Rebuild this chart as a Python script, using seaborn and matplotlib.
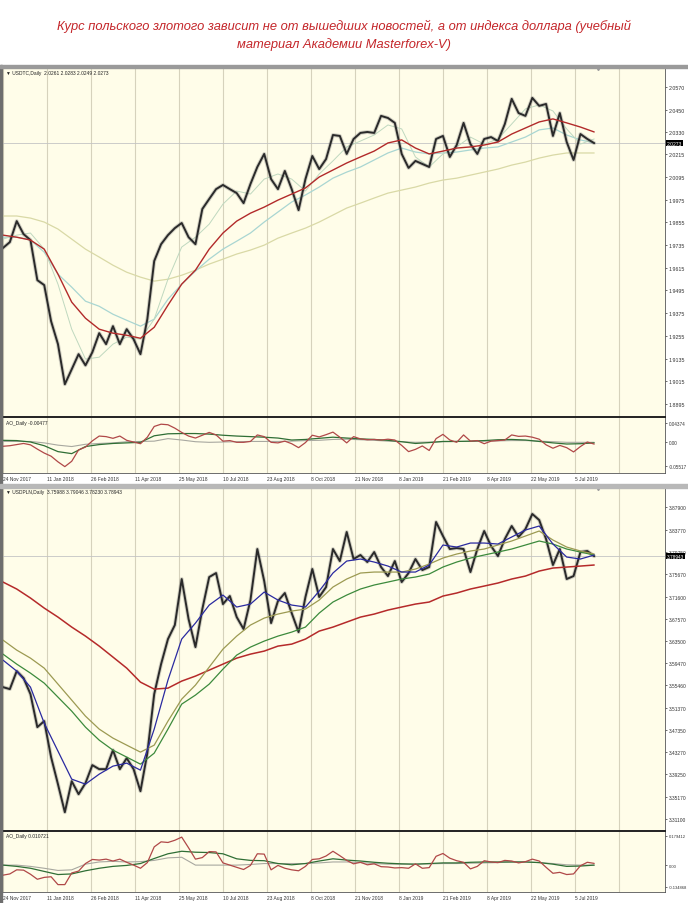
import numpy as np
import matplotlib
matplotlib.use("Agg")
import matplotlib.pyplot as plt
from matplotlib.patches import Rectangle
import seaborn as sns

sns.set_style("white")
plt.rcParams["font.family"] = ["Liberation Sans", "DejaVu Sans"]

# ---------------- data ----------------
title_lines = [
    "Курс польского злотого зависит не от вышедших новостей, а от индекса доллара (учебный",
    "материал Академии Masterforex-V)",
]
date_labels = ["24 Nov 2017", "11 Jan 2018", "26 Feb 2018", "11 Apr 2018", "25 May 2018",
               "10 Jul 2018", "23 Aug 2018", "8 Oct 2018", "21 Nov 2018", "8 Jan 2019",
               "21 Feb 2019", "8 Apr 2019", "22 May 2019", "5 Jul 2019"]

# bar index of weekly closes and of moving-average samples
bars_week = np.arange(0, 431, 5)
bars_ma = np.arange(0, 431, 10)

# ---- top chart ----
top_header = "USDTC,Daily  2.0261 2.0283 2.0249 2.0273"
top_close = [1.9719, 1.9750, 1.9861, 1.9792, 1.9761, 1.9549, 1.9523, 1.9332, 1.9211, 1.8999,
             1.9078, 1.9158, 1.9099, 1.9168, 1.9269, 1.9211, 1.9306, 1.9211, 1.9290, 1.9237,
             1.9158, 1.9343, 1.9650, 1.9739, 1.9787, 1.9824, 1.9851, 1.9776, 1.9739, 1.9925,
             1.9978, 2.0030, 2.0052, 2.0030, 2.0009, 1.9956, 2.0057, 2.0147, 2.0216, 2.0083,
             2.0030, 2.0126, 2.0030, 1.9919, 2.0083, 2.0205, 2.0136, 2.0189, 2.0316, 2.0311,
             2.0216, 2.0295, 2.0327, 2.0332, 2.0327, 2.0417, 2.0406, 2.0380, 2.0216, 2.0142,
             2.0179, 2.0163, 2.0147, 2.0295, 2.0311, 2.0200, 2.0263, 2.0380, 2.0268, 2.0216,
             2.0295, 2.0305, 2.0284, 2.0374, 2.0507, 2.0432, 2.0417, 2.0512, 2.0470, 2.0480,
             2.0311, 2.0432, 2.0279, 2.0184, 2.0321, 2.0295, 2.0273]
top_ma_red = [1.9787, 1.9776, 1.9761, 1.9713, 1.9581, 1.9433, 1.9348, 1.9290, 1.9269, 1.9258,
              1.9242, 1.9300, 1.9417, 1.9528, 1.9602, 1.9713, 1.9798, 1.9861, 1.9903, 1.9935,
              1.9972, 2.0004, 2.0036, 2.0094, 2.0131, 2.0168, 2.0200, 2.0231, 2.0274, 2.0290,
              2.0247, 2.0216, 2.0231, 2.0247, 2.0253, 2.0263, 2.0279, 2.0321, 2.0353, 2.0385,
              2.0401, 2.0380, 2.0358, 2.0332]
top_ma_cyan = [1.9776, 1.9776, 1.9761, 1.9697, 1.9581, 1.9512, 1.9438, 1.9411, 1.9369, 1.9337,
               1.9306, 1.9343, 1.9448, 1.9528, 1.9597, 1.9660, 1.9713, 1.9755, 1.9798, 1.9856,
               1.9909, 1.9962, 1.9999, 2.0041, 2.0088, 2.0120, 2.0147, 2.0184, 2.0221, 2.0247,
               2.0226, 2.0216, 2.0221, 2.0226, 2.0237, 2.0247, 2.0253, 2.0279, 2.0305, 2.0343,
               2.0353, 2.0316, 2.0290, 2.0274]
top_ma_beige = [1.9888, 1.9888, 1.9877, 1.9856, 1.9819, 1.9766, 1.9713, 1.9671, 1.9628, 1.9591,
                1.9565, 1.9544, 1.9554, 1.9575, 1.9602, 1.9634, 1.9660, 1.9687, 1.9708, 1.9734,
                1.9771, 1.9798, 1.9824, 1.9856, 1.9893, 1.9930, 1.9956, 1.9983, 2.0009, 2.0025,
                2.0041, 2.0062, 2.0078, 2.0088, 2.0104, 2.0120, 2.0136, 2.0157, 2.0173, 2.0194,
                2.0210, 2.0221, 2.0221, 2.0221]
top_ma_fast = [1.9766, 1.9787, 1.9798, 1.9713, 1.9528, 1.9290, 1.9132, 1.9142, 1.9211, 1.9248,
               1.9237, 1.9343, 1.9554, 1.9724, 1.9776, 1.9845, 1.9951, 2.0020, 2.0004, 2.0083,
               2.0110, 2.0083, 2.0020, 2.0110, 2.0179, 2.0253, 2.0284, 2.0316, 2.0369, 2.0348,
               2.0200, 2.0147, 2.0216, 2.0253, 2.0305, 2.0268, 2.0295, 2.0374, 2.0454, 2.0475,
               2.0443, 2.0348, 2.0268, 2.0295]
top_yticks = [2.0570, 2.0450, 2.0330, 2.0215, 2.0095, 1.9975, 1.9855, 1.9735, 1.9615, 1.9495,
              1.9375, 1.9255, 1.9135, 1.9015, 1.8895]
top_ytick_labels = ["2.0570", "2.0450", "2.0330", "2.0215", "2.0095", "1.9975", "1.9855", "1.9735",
                    "1.9615", "1.9495", "1.9375", "1.9255", "1.9135", "1.9015", "1.8895"]
top_last = "2.0273"

top_osc_header = "AO_Daily -0.00477"
top_osc_red = [-0.0098, -0.0085, -0.0059, -0.0033, -0.0065, -0.0163, -0.0254, -0.0326, -0.0456, -0.0566,
               -0.0443, -0.0182, -0.0117, 0.0026, 0.0137, 0.0124, 0.0085, 0.0137, 0.0039, 0.0000,
               -0.0039, 0.0111, 0.0358, 0.0410, 0.0397, 0.0319, 0.0221, 0.0137, 0.0091, 0.0156,
               0.0221, 0.0163, 0.0020, 0.0033, -0.0007, -0.0007, 0.0013, 0.0163, 0.0124, -0.0007,
               -0.0020, 0.0020, -0.0039, -0.0130, -0.0013, 0.0156, 0.0117, 0.0169, 0.0228, 0.0111,
               -0.0020, 0.0124, 0.0072, 0.0052, 0.0059, 0.0046, 0.0065, 0.0046, -0.0078, -0.0221,
               -0.0169, -0.0091, -0.0195, 0.0078, 0.0176, 0.0046, -0.0007, 0.0163, 0.0020, 0.0033,
               -0.0039, 0.0020, 0.0033, 0.0046, 0.0163, 0.0130, 0.0137, 0.0111, 0.0065, -0.0065,
               -0.0143, -0.0078, -0.0130, -0.0228, -0.0104, 0.0000, -0.0048]
top_osc_dark = [0.0039, 0.0033, 0.0000, -0.0085, -0.0221, -0.0267, -0.0104, -0.0059, -0.0033, -0.0020,
                -0.0007, 0.0143, 0.0189, 0.0195, 0.0195, 0.0182, 0.0156, 0.0137, 0.0124, 0.0111,
                0.0091, 0.0046, 0.0059, 0.0085, 0.0111, 0.0091, 0.0072, 0.0059, 0.0039, 0.0007,
                -0.0033, -0.0013, 0.0013, 0.0013, 0.0020, 0.0033, 0.0052, 0.0059, 0.0046, 0.0013,
                -0.0020, -0.0046, -0.0039, -0.0020]
top_osc_light = [0.0013, 0.0013, 0.0013, -0.0020, -0.0072, -0.0104, -0.0052, -0.0033, -0.0020, 0.0007,
                 0.0013, 0.0020, 0.0078, 0.0046, 0.0007, -0.0007, 0.0000, 0.0007, 0.0013, 0.0013,
                 0.0013, 0.0020, 0.0033, 0.0039, 0.0059, 0.0065, 0.0052, 0.0039, 0.0020, 0.0007,
                 -0.0007, 0.0000, 0.0007, 0.0013, 0.0013, 0.0020, 0.0026, 0.0033, 0.0033, 0.0020,
                 0.0007, -0.0007, -0.0007, -0.0007]
top_osc_ticks = [0.04374, 0.0, -0.05517]
top_osc_labels = ["0.04374", "0.00", "-0.05517"]

# ---- bottom chart ----
bot_header = "USDPLN,Daily  3.75988 3.79046 3.78230 3.78943"
bot_close = [3.5511, 3.5475, 3.5803, 3.5675, 3.5384, 3.4783, 3.4892, 3.4236, 3.3744, 3.3234,
             3.3799, 3.3562, 3.3763, 3.4091, 3.4018, 3.4018, 3.4364, 3.4018, 3.4218, 3.4018,
             3.3617, 3.4309, 3.5384, 3.5930, 3.6386, 3.6641, 3.7479, 3.6750, 3.6240, 3.6932,
             3.7515, 3.7588, 3.7023, 3.7169, 3.6786, 3.6568, 3.7096, 3.8025, 3.7442, 3.6677,
             3.7078, 3.7224, 3.6859, 3.6513, 3.7151, 3.7661, 3.7151, 3.7333, 3.8025, 3.7806,
             3.8335, 3.7843, 3.7916, 3.7788, 3.7970, 3.7697, 3.7533, 3.7806, 3.7424, 3.7588,
             3.7843, 3.7642, 3.7697, 3.8517, 3.8262, 3.8025, 3.8043, 3.8025, 3.7606, 3.8025,
             3.8353, 3.8080, 3.7897, 3.8207, 3.8444, 3.8244, 3.8389, 3.8663, 3.8553, 3.8207,
             3.7734, 3.8025, 3.7479, 3.7533, 3.7970, 3.7989, 3.7894]
bot_ma_red = [3.7424, 3.7297, 3.7133, 3.6950, 3.6786, 3.6604, 3.6440, 3.6258, 3.6058, 3.5857,
              3.5602, 3.5475, 3.5493, 3.5621, 3.5712, 3.5821, 3.5930, 3.6039, 3.6112, 3.6167,
              3.6258, 3.6294, 3.6386, 3.6531, 3.6604, 3.6695, 3.6786, 3.6841, 3.6914, 3.6969,
              3.7023, 3.7060, 3.7169, 3.7224, 3.7297, 3.7351, 3.7406, 3.7479, 3.7533, 3.7624,
              3.7679, 3.7697, 3.7715, 3.7734]
bot_ma_blue = [3.6003, 3.5803, 3.5511, 3.4856, 3.4346, 3.3836, 3.3745, 3.3927, 3.4073, 3.4127,
               3.4000, 3.4747, 3.5639, 3.6386, 3.6677, 3.7005, 3.7187, 3.6969, 3.7023, 3.7242,
               3.7096, 3.7005, 3.6969, 3.7260, 3.7588, 3.7806, 3.7843, 3.7788, 3.7715, 3.7606,
               3.7606, 3.7734, 3.8098, 3.8061, 3.8134, 3.8134, 3.8116, 3.8244, 3.8371, 3.8444,
               3.8116, 3.7879, 3.7843, 3.7916]
bot_ma_olive = [3.6367, 3.6185, 3.6039, 3.5857, 3.5566, 3.5275, 3.4983, 3.4747, 3.4583, 3.4455,
                3.4328, 3.4455, 3.4892, 3.5293, 3.5548, 3.5876, 3.6203, 3.6440, 3.6641, 3.6768,
                3.6841, 3.6896, 3.6932, 3.7096, 3.7333, 3.7479, 3.7588, 3.7606, 3.7606, 3.7606,
                3.7661, 3.7752, 3.7861, 3.7934, 3.7989, 3.8025, 3.8098, 3.8171, 3.8262, 3.8353,
                3.8189, 3.8061, 3.7989, 3.7934]
bot_ma_green = [3.6112, 3.5930, 3.5766, 3.5584, 3.5329, 3.5074, 3.4783, 3.4546, 3.4364, 3.4237,
                3.4109, 3.4309, 3.4747, 3.5202, 3.5366, 3.5566, 3.5839, 3.6094, 3.6240, 3.6349,
                3.6440, 3.6513, 3.6604, 3.6859, 3.7060, 3.7187, 3.7297, 3.7370, 3.7424, 3.7479,
                3.7515, 3.7570, 3.7697, 3.7788, 3.7861, 3.7916, 3.7970, 3.8025, 3.8098, 3.8171,
                3.8116, 3.8025, 3.7970, 3.7916]
bot_yticks = [3.87900, 3.83770, 3.79750, 3.75670, 3.71600, 3.67570, 3.63500, 3.59470, 3.55460,
              3.51370, 3.47350, 3.43270, 3.39250, 3.35170, 3.31100]
bot_ytick_labels = ["3.87900", "3.83770", "3.79750", "3.75670", "3.71600", "3.67570", "3.63500",
                    "3.59470", "3.55460", "3.51370", "3.47350", "3.43270", "3.39250", "3.35170",
                    "3.31100"]
bot_last = "3.78943"

bot_osc_header = "AO_Daily 0.010721"
bot_osc_red = [-0.0620, -0.0543, -0.0291, -0.0310, -0.0562, -0.0872, -0.0756, -0.0717, -0.1202, -0.1202,
               -0.0484, -0.0368, 0.0097, 0.0349, 0.0310, 0.0368, 0.0252, 0.0368, 0.0174, 0.0000,
               -0.0194, 0.0155, 0.1124, 0.1434, 0.1395, 0.1531, 0.1725, 0.1066, 0.0368, 0.0465,
               0.0833, 0.0814, 0.0136, 0.0000, -0.0136, -0.0271, -0.0019, 0.0698, 0.0678, -0.0291,
               -0.0019, -0.0194, -0.0291, -0.0349, -0.0078, 0.0349, 0.0388, 0.0562, 0.0853, 0.0581,
               0.0291, 0.0078, 0.0174, 0.0019, 0.0078, -0.0097, -0.0116, -0.0174, -0.0155, -0.0194,
               0.0078, -0.0194, -0.0155, 0.0543, 0.0717, 0.0426, 0.0271, 0.0174, -0.0233, -0.0078,
               0.0271, 0.0194, 0.0155, 0.0291, 0.0252, 0.0136, 0.0213, 0.0368, 0.0252, -0.0136,
               -0.0504, -0.0446, -0.0581, -0.0543, -0.0039, 0.0174, 0.0107]
bot_osc_dark = [0.0000, -0.0078, -0.0194, -0.0388, -0.0581, -0.0543, -0.0349, -0.0194, -0.0078, -0.0019,
                0.0097, 0.0407, 0.0698, 0.0853, 0.0795, 0.0775, 0.0698, 0.0388, 0.0291, 0.0271,
                0.0097, 0.0019, 0.0097, 0.0252, 0.0388, 0.0310, 0.0252, 0.0174, 0.0116, 0.0078,
                0.0058, 0.0097, 0.0136, 0.0136, 0.0174, 0.0194, 0.0194, 0.0194, 0.0194, 0.0155,
                0.0058, -0.0078, -0.0058, 0.0000]
bot_osc_light = [0.0000, 0.0000, -0.0078, -0.0194, -0.0329, -0.0291, 0.0058, 0.0194, 0.0233, 0.0194,
                 0.0213, 0.0291, 0.0446, 0.0484, 0.0000, 0.0000, 0.0000, 0.0000, 0.0039, 0.0097,
                 0.0097, 0.0097, 0.0097, 0.0136, 0.0194, 0.0194, 0.0155, 0.0097, 0.0058, 0.0058,
                 0.0058, 0.0078, 0.0097, 0.0097, 0.0116, 0.0136, 0.0155, 0.0194, 0.0194, 0.0155,
                 0.0097, 0.0019, 0.0000, 0.0000]
bot_osc_ticks = [0.179412, 0.0, -0.134868]
bot_osc_labels = ["0.179412", "0.00", "-0.134868"]

# ---------------- layout ----------------
W, H = 688, 904
BG = "#FFFDE9"
GRID = "#D6D2BC"
date_bars = np.arange(len(date_labels)) * 32
grid_bars = np.arange(0, 449, 32)
XLIM = (-0.7, 481.5)

fig = plt.figure(figsize=(W / 100, H / 100), dpi=100, facecolor="white")


def panel(top, bottom):
    return fig.add_axes([2 / W, 1 - bottom / H, 663 / W, (bottom - top) / H])


def style(ax, ylim, ticks, labels, show_dates, ysize=3.6):
    ax.set_facecolor(BG)
    ax.set_xlim(*XLIM)
    ax.set_ylim(*ylim)
    for b in grid_bars:
        ax.axvline(b, color=GRID, lw=0.8, zorder=0)
    ax.yaxis.tick_right()
    ax.set_yticks(ticks)
    ax.set_yticklabels(labels)
    ax.tick_params(axis="y", labelsize=ysize, length=1.5, width=0.5, pad=1, colors="#333333")
    ax.set_xticks(date_bars)
    if show_dates:
        ax.set_xticklabels(date_labels)
        for t in ax.get_xticklabels():
            t.set_ha("left")
    else:
        ax.set_xticklabels([])
    ax.tick_params(axis="x", labelsize=3.5, length=0, pad=2, colors="#333333")
    ax.set_xlabel("")
    ax.set_ylabel("")
    for s in ax.spines.values():
        s.set_color("#555555")
        s.set_linewidth(0.6)


def price_line(ax, close):
    sns.lineplot(x=bars_week, y=close, ax=ax, color="#6a6a6a", linewidth=2.8, alpha=0.3)
    sns.lineplot(x=bars_week, y=close, ax=ax, color="#2a2a2a", linewidth=1.4)


def last_box(ax, value, text, size):
    ax.axhline(value, color="#C4C4C4", lw=0.6, zorder=1)
    ax.text(1.003, value, text, transform=ax.get_yaxis_transform(), ha="left", va="center",
            fontsize=size, color="white",
            bbox=dict(boxstyle="square,pad=0.15", fc="black", ec="none"))


# window frame pieces
fig.add_artist(Rectangle((0, 0), 2 / W, 1 - 66 / H, transform=fig.transFigure, color="#6E6E6E"))
fig.add_artist(Rectangle((0, 1 - 69 / H), 1, 3 / H, transform=fig.transFigure, color="#9A9A9A"))
fig.add_artist(Rectangle((0, 1 - 489 / H), 1, 4 / H, transform=fig.transFigure, color="#B8B8B8"))

# title
for i, line in enumerate(title_lines):
    fig.text(0.5, 1 - (26 + 19 * i) / H, line, ha="center", va="center", color="#C4262A",
             fontsize=9.3, style="italic", family=["Liberation Sans", "DejaVu Sans"])

# ---- top price panel ----
ax1 = panel(69, 418)
style(ax1, (1.8826, 2.0670), top_yticks, top_ytick_labels, False, ysize=3.8)
sns.lineplot(x=bars_ma, y=top_ma_beige, ax=ax1, color="#D9D9A6", linewidth=0.9)
sns.lineplot(x=bars_ma, y=top_ma_cyan, ax=ax1, color="#A9D6D2", linewidth=0.9)
sns.lineplot(x=bars_ma, y=top_ma_fast, ax=ax1, color="#BFD8BF", linewidth=0.7)
price_line(ax1, top_close)
sns.lineplot(x=bars_ma, y=top_ma_red, ax=ax1, color="#B22A2A", linewidth=1.0)
last_box(ax1, top_close[-1], top_last, 3.6)
ax1.plot([433], [2.0670], marker="v", color="#9A9A9A", ms=3, clip_on=False)
fig.text(6 / W, 1 - 74 / H, "\u25bc " + top_header, fontsize=3.5, va="center", color="#222222")

# ---- top oscillator ----
ax1o = panel(418, 474)
style(ax1o, (-0.07127, 0.05754), top_osc_ticks, top_osc_labels, True, ysize=3.3)
sns.lineplot(x=bars_ma, y=top_osc_light, ax=ax1o, color="#A8A8A0", linewidth=0.8)
sns.lineplot(x=bars_ma, y=top_osc_dark, ax=ax1o, color="#2F6E35", linewidth=0.9)
sns.lineplot(x=bars_week, y=top_osc_red, ax=ax1o, color="#B04848", linewidth=0.9)
ax1o.spines["top"].set_linewidth(1.4)
ax1o.spines["top"].set_color("#222222")
fig.text(6 / W, 1 - 423 / H, top_osc_header, fontsize=3.5, va="center", color="#222222")

# ---- bottom price panel ----
ax2 = panel(489, 832)
style(ax2, (3.2892, 3.9136), bot_yticks, bot_ytick_labels, False, ysize=3.5)
price_line(ax2, bot_close)
sns.lineplot(x=bars_ma, y=bot_ma_red, ax=ax2, color="#B52A2A", linewidth=1.1)
sns.lineplot(x=bars_ma, y=bot_ma_green, ax=ax2, color="#3C8A3C", linewidth=0.9)
sns.lineplot(x=bars_ma, y=bot_ma_olive, ax=ax2, color="#9C9A52", linewidth=0.9)
sns.lineplot(x=bars_ma, y=bot_ma_blue, ax=ax2, color="#2A2AA0", linewidth=0.9)
last_box(ax2, bot_close[-1], bot_last, 3.4)
ax2.plot([433], [3.9136], marker="v", color="#9A9A9A", ms=3, clip_on=False)
fig.text(6 / W, 1 - 493 / H, "\u25bc " + bot_header, fontsize=3.5, va="center", color="#222222")

# ---- bottom oscillator ----
ax2o = panel(832, 893)
style(ax2o, (-0.1657, 0.2102), bot_osc_ticks, bot_osc_labels, True, ysize=3.0)
sns.lineplot(x=bars_ma, y=bot_osc_light, ax=ax2o, color="#A8A8A0", linewidth=0.8)
sns.lineplot(x=bars_ma, y=bot_osc_dark, ax=ax2o, color="#2F6E35", linewidth=0.9)
sns.lineplot(x=bars_week, y=bot_osc_red, ax=ax2o, color="#B04848", linewidth=0.9)
ax2o.spines["top"].set_linewidth(1.4)
ax2o.spines["top"].set_color("#222222")
fig.text(6 / W, 1 - 837 / H, bot_osc_header, fontsize=3.5, va="center", color="#222222")

fig.savefig("out.png", dpi=100, facecolor="white")
